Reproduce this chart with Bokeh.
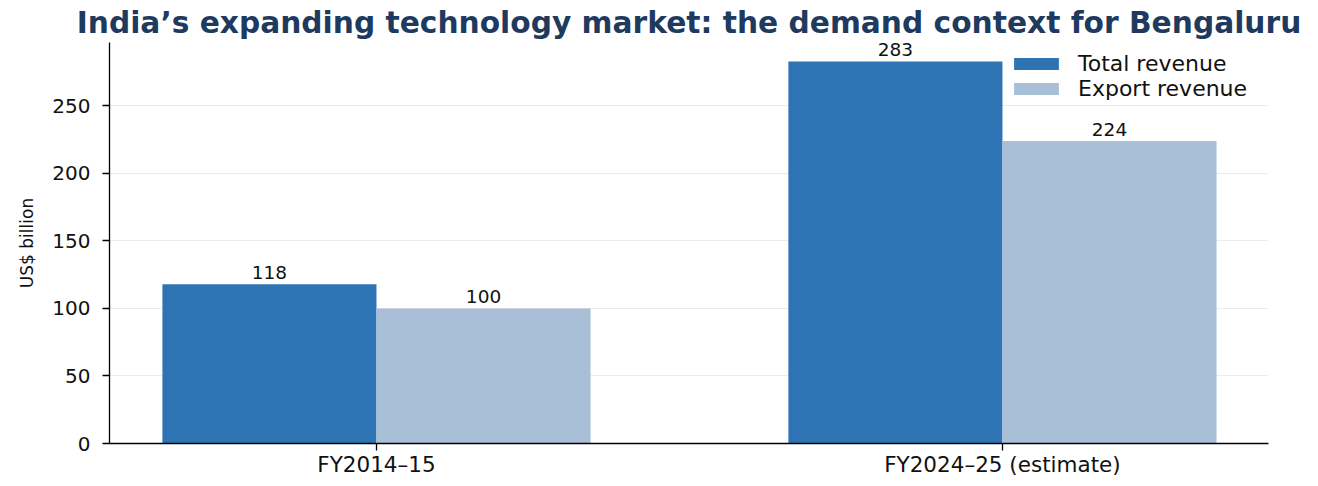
from bokeh.plotting import figure
from bokeh.models import ColumnDataSource, Range1d, FixedTicker, LabelSet, Legend, LegendItem
from bokeh.transform import dodge
from bokeh.core.properties import value
from bokeh.embed import file_html
from bokeh.resources import INLINE

categories = ["FY2014–15", "FY2024–25 (estimate)"]
total_revenue = [118, 283]
export_revenue = [100, 224]
series_names = ["Total revenue", "Export revenue"]
y_ticks = [0, 50, 100, 150, 200, 250]

FONT = "DejaVu Sans"
C_TOTAL = "#2e74b5"
C_EXPORT = "#a9bfd8"

pos = list(range(len(categories)))
src = ColumnDataSource(dict(
    x=pos,
    total=total_revenue,
    export=export_revenue,
    total_lbl=[str(v) for v in total_revenue],
    export_lbl=[str(v) for v in export_revenue],
))

p = figure(width=1318, height=486, output_backend="svg", toolbar_location=None,
           x_range=Range1d(-0.4265, 1.425), y_range=Range1d(0, 297),
           min_border_left=109, min_border_right=50, min_border_top=40, min_border_bottom=43)

w = 0.342
off = w / 2
r1 = p.vbar(x=dodge("x", -off, range=p.x_range), top="total", width=w, source=src,
            fill_color=C_TOTAL, line_color=None)
r2 = p.vbar(x=dodge("x", off, range=p.x_range), top="export", width=w, source=src,
            fill_color=C_EXPORT, line_color=None)

lab_kw = dict(y_offset=5, text_align="center", text_baseline="bottom",
              text_font_size="18.5px", text_color="#111111", text_font=value(FONT))
p.add_layout(LabelSet(x=dodge("x", -off, range=p.x_range), y="total", text="total_lbl", source=src, **lab_kw))
p.add_layout(LabelSet(x=dodge("x", off, range=p.x_range), y="export", text="export_lbl", source=src, **lab_kw))

p.title.text = "India’s expanding technology market: the demand context for Bengaluru"
p.title.align = "center"
p.title.text_font = FONT
p.title.text_font_size = "29.7px"
p.title.text_font_style = "bold"
p.title.text_color = "#1f3a5f"
p.title.text_line_height = 1.0
p.title.offset = 0
p.title.standoff = 5

p.xaxis.ticker = FixedTicker(ticks=pos)
p.xaxis.major_label_overrides = {i: c for i, c in enumerate(categories)}
p.yaxis.ticker = FixedTicker(ticks=y_ticks)
p.yaxis.axis_label = "US$ billion"

for ax in (p.xaxis, p.yaxis):
    ax.axis_line_color = "black"
    ax.axis_line_width = 1.3
    ax.major_tick_line_color = "black"
    ax.major_tick_line_width = 1.3
    ax.major_tick_out = 7
    ax.major_tick_in = 0
    ax.minor_tick_line_color = None
    ax.major_label_text_font = FONT
    ax.major_label_text_color = "#111111"
p.xaxis.major_label_text_font_size = "21.5px"
p.yaxis.major_label_text_font_size = "20px"
p.xaxis.major_label_standoff = 1
p.yaxis.major_label_standoff = 12
p.yaxis.axis_label_text_font = FONT
p.yaxis.axis_label_text_font_size = "17px"
p.yaxis.axis_label_text_font_style = "normal"
p.yaxis.axis_label_text_color = "#111111"
p.yaxis.axis_label_standoff = 12

p.xgrid.grid_line_color = None
p.ygrid.grid_line_color = "#ebebeb"
p.ygrid.grid_line_width = 1
p.outline_line_color = None

legend = Legend(items=[LegendItem(label=series_names[0], renderers=[r1]),
                       LegendItem(label=series_names[1], renderers=[r2])],
                location=(899, 342), border_line_color=None, background_fill_alpha=0.9,
                label_text_font=FONT, label_text_font_size="22px", label_text_color="#111111",
                glyph_width=56, glyph_height=15, label_height=14, spacing=0,
                padding=2, margin=0, label_standoff=14)
p.add_layout(legend)

open("out.html", "w").write(file_html(p, INLINE))
